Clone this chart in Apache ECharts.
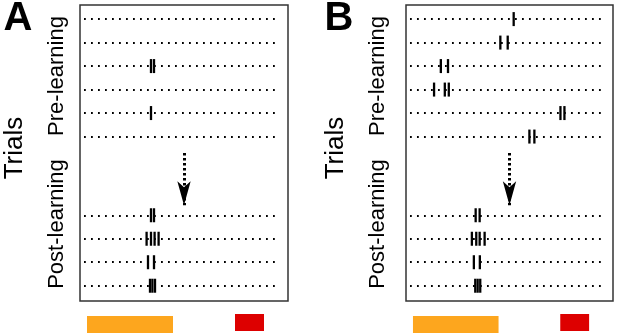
<!DOCTYPE html>
<html>
<head>
<meta charset="utf-8">
<script src="https://cdn.jsdelivr.net/npm/echarts@6/dist/echarts.min.js"></script>
<style>html,body{margin:0;padding:0;background:#fff}#chart{width:617px;height:336px}</style>
</head>
<body>
<div id="chart"></div>
<script>
// trial rows (top to bottom), gap between pre- and post-learning
const preRows = [1, 2, 3, 4, 5, 6];
const postRows = [9.35, 10.35, 11.35, 12.35];
const trialStart = 0.2, trialEnd = 10.0;
// spike times (s) for each trial row, same order as rows
const spikesA = [[], [], [3.55, 3.7], [], [3.55], [], [3.55, 3.7], [3.33, 3.55, 3.73, 3.93], [3.4, 3.7], [3.5, 3.62, 3.75]];
const spikesB = [[5.41], [4.74, 5.11], [1.75, 2.11], [1.41, 1.95, 2.15], [7.76, 7.96], [6.2, 6.45], [3.5, 3.7], [3.31, 3.53, 3.7, 3.95], [3.41, 3.71], [3.48, 3.6, 3.73]];
const arrowTime = 5.2, arrowFrom = 6.7, arrowTo = 8.92;
// stimulus bars: [start, end]
const stimuli = [[0.35, 4.65], [7.75, 9.2]];
const stimColors = ['#FDA61E', '#DD0000'];
const panelNames = ['A', 'B'];
const rowLabels = ['Pre-learning', 'Post-learning'];

const rows = preRows.concat(postRows);
const font = 'Liberation Sans, Arial, sans-serif';

const chart = echarts.init(document.getElementById('chart'));

const grids = [], xAxes = [], yAxes = [], series = [], graphics = [];
const boxLeft = [80, 406], boxWidth = [208, 207], labelOff = [0, 321];

[spikesA, spikesB].forEach((spikes, p) => {
  grids.push({ left: boxLeft[p], top: 5, width: boxWidth[p], height: 296, show: true,
    borderColor: '#333', borderWidth: 1.5, backgroundColor: 'transparent' });
  grids.push({ left: boxLeft[p], top: 314, width: boxWidth[p], height: 19, show: false });
  [0, 1].forEach((k) => {
    xAxes.push({ type: 'value', gridIndex: 2 * p + k, min: 0, max: 10.4, show: false });
  });
  yAxes.push({ type: 'value', gridIndex: 2 * p, min: 0.4, max: 13, inverse: true, show: false });
  yAxes.push({ type: 'value', gridIndex: 2 * p + 1, min: 0, max: 1, show: false });

  // dotted trial lines
  series.push({
    type: 'lines', coordinateSystem: 'cartesian2d', xAxisIndex: 2 * p, yAxisIndex: 2 * p,
    silent: true,
    lineStyle: { color: '#000', width: 1.8, type: [1.8, 5.2], opacity: 1 },
    data: rows.map((r) => ({ coords: [[trialStart, r], [trialEnd, r]] }))
  });

  // spikes
  const pts = [];
  spikes.forEach((times, i) => times.forEach((t) => pts.push([t, rows[i]])));
  series.push({
    type: 'scatter', xAxisIndex: 2 * p, yAxisIndex: 2 * p, silent: true, z: 5,
    symbol: 'rect', symbolSize: [2.3, 14],
    itemStyle: { color: '#000', opacity: 1 },
    data: pts,
    markLine: {
      silent: true, symbol: ['none', 'arrow'], symbolSize: [10, 24],
      label: { show: false },
      lineStyle: { color: '#000', width: 3, type: [2.5, 2.5], opacity: 1 },
      data: [[{ coord: [arrowTime, arrowFrom] }, { coord: [arrowTime, arrowTo] }]]
    }
  });

  // stimulus bars
  series.push({
    type: 'custom', xAxisIndex: 2 * p + 1, yAxisIndex: 2 * p + 1, silent: true,
    data: stimuli.map((s, i) => [s[0], s[1], i]),
    renderItem: (params, api) => {
      const a = api.coord([api.value(0), 1]);
      const b = api.coord([api.value(1), 0]);
      const i = api.value(2);
      const off = i === 0 ? 2 : 0;
      return { type: 'rect', shape: { x: a[0], y: a[1] + off, width: b[0] - a[0], height: 17 },
        style: { fill: stimColors[i] } };
    }
  });

  const o = labelOff[p];
  graphics.push({ type: 'text', x: 18 + o, y: 19, style: { text: panelNames[p], font: 'bold 40px ' + font,
    fill: '#000', textAlign: 'center', textVerticalAlign: 'middle' } });
  graphics.push({ type: 'text', x: 15 + o, y: 148, rotation: Math.PI / 2, style: { text: 'Trials',
    font: '26px ' + font, fill: '#000', textAlign: 'center', textVerticalAlign: 'middle' } });
  graphics.push({ type: 'text', x: 56.5 + o, y: 76, rotation: Math.PI / 2, style: { text: rowLabels[0],
    font: '22px ' + font, fill: '#000', textAlign: 'center', textVerticalAlign: 'middle' } });
  graphics.push({ type: 'text', x: 56.5 + o, y: 224, rotation: Math.PI / 2, style: { text: rowLabels[1],
    font: '22px ' + font, fill: '#000', textAlign: 'center', textVerticalAlign: 'middle' } });
});

chart.setOption({
  animation: false,
  backgroundColor: '#fff',
  grid: grids,
  xAxis: xAxes,
  yAxis: yAxes,
  series: series,
  graphic: graphics
});
</script>
</body>
</html>
